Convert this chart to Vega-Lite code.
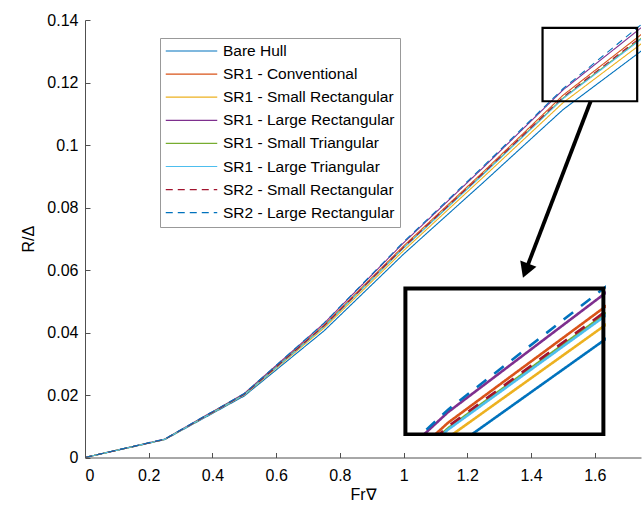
{
  "$schema": "https://vega.github.io/schema/vega-lite/v6.json",
  "padding": {"left": 20, "top": 12, "right": 0, "bottom": 0},
  "config": {
    "font": "Liberation Sans",
    "axis": {"labelFontSize": 16, "labelColor": "#000", "titleFontSize": 16, "titleFontWeight": "normal", "titleColor": "#000", "domainColor": "#505050", "tickColor": "#505050", "grid": false},
    "legend": {"labelFontSize": 15.5, "labelColor": "#000", "labelLimit": 0, "strokeColor": "#999", "fillColor": "white", "padding": 5, "rowPadding": 6.1, "clipHeight": 16, "symbolType": "stroke", "symbolSize": 2650, "symbolStrokeWidth": 1.2, "labelOffset": 5}
  },
  "datasets": {
    "curves": [
      {"series": "Bare Hull", "Fr": 0, "R": 0},
      {"series": "Bare Hull", "Fr": 0.25, "R": 0.0057},
      {"series": "Bare Hull", "Fr": 0.5, "R": 0.0197},
      {"series": "Bare Hull", "Fr": 0.75, "R": 0.0405},
      {"series": "Bare Hull", "Fr": 1.0, "R": 0.0651},
      {"series": "Bare Hull", "Fr": 1.25, "R": 0.088},
      {"series": "Bare Hull", "Fr": 1.5, "R": 0.1113},
      {"series": "Bare Hull", "Fr": 1.75, "R": 0.1304},
      {"series": "SR1 - Conventional", "Fr": 0, "R": 0},
      {"series": "SR1 - Conventional", "Fr": 0.25, "R": 0.0058},
      {"series": "SR1 - Conventional", "Fr": 0.5, "R": 0.0203},
      {"series": "SR1 - Conventional", "Fr": 0.75, "R": 0.0423},
      {"series": "SR1 - Conventional", "Fr": 1.0, "R": 0.0677},
      {"series": "SR1 - Conventional", "Fr": 1.25, "R": 0.0914},
      {"series": "SR1 - Conventional", "Fr": 1.5, "R": 0.1159},
      {"series": "SR1 - Conventional", "Fr": 1.75, "R": 0.1357},
      {"series": "SR1 - Small Rectangular", "Fr": 0, "R": 0},
      {"series": "SR1 - Small Rectangular", "Fr": 0.25, "R": 0.0058},
      {"series": "SR1 - Small Rectangular", "Fr": 0.5, "R": 0.02},
      {"series": "SR1 - Small Rectangular", "Fr": 0.75, "R": 0.0414},
      {"series": "SR1 - Small Rectangular", "Fr": 1.0, "R": 0.0662},
      {"series": "SR1 - Small Rectangular", "Fr": 1.25, "R": 0.0897},
      {"series": "SR1 - Small Rectangular", "Fr": 1.5, "R": 0.1135},
      {"series": "SR1 - Small Rectangular", "Fr": 1.75, "R": 0.1327},
      {"series": "SR1 - Large Rectangular", "Fr": 0, "R": 0},
      {"series": "SR1 - Large Rectangular", "Fr": 0.25, "R": 0.0059},
      {"series": "SR1 - Large Rectangular", "Fr": 0.5, "R": 0.0205},
      {"series": "SR1 - Large Rectangular", "Fr": 0.75, "R": 0.0429},
      {"series": "SR1 - Large Rectangular", "Fr": 1.0, "R": 0.0687},
      {"series": "SR1 - Large Rectangular", "Fr": 1.25, "R": 0.0928},
      {"series": "SR1 - Large Rectangular", "Fr": 1.5, "R": 0.1176},
      {"series": "SR1 - Large Rectangular", "Fr": 1.75, "R": 0.1379},
      {"series": "SR1 - Small Triangular", "Fr": 0, "R": 0},
      {"series": "SR1 - Small Triangular", "Fr": 0.25, "R": 0.0058},
      {"series": "SR1 - Small Triangular", "Fr": 0.5, "R": 0.0202},
      {"series": "SR1 - Small Triangular", "Fr": 0.75, "R": 0.042},
      {"series": "SR1 - Small Triangular", "Fr": 1.0, "R": 0.0671},
      {"series": "SR1 - Small Triangular", "Fr": 1.25, "R": 0.0908},
      {"series": "SR1 - Small Triangular", "Fr": 1.5, "R": 0.115},
      {"series": "SR1 - Small Triangular", "Fr": 1.75, "R": 0.1345},
      {"series": "SR1 - Large Triangular", "Fr": 0, "R": 0},
      {"series": "SR1 - Large Triangular", "Fr": 0.25, "R": 0.0058},
      {"series": "SR1 - Large Triangular", "Fr": 0.5, "R": 0.0201},
      {"series": "SR1 - Large Triangular", "Fr": 0.75, "R": 0.0419},
      {"series": "SR1 - Large Triangular", "Fr": 1.0, "R": 0.067},
      {"series": "SR1 - Large Triangular", "Fr": 1.25, "R": 0.0906},
      {"series": "SR1 - Large Triangular", "Fr": 1.5, "R": 0.1148},
      {"series": "SR1 - Large Triangular", "Fr": 1.75, "R": 0.1342},
      {"series": "SR2 - Small Rectangular", "Fr": 0, "R": 0},
      {"series": "SR2 - Small Rectangular", "Fr": 0.25, "R": 0.0058},
      {"series": "SR2 - Small Rectangular", "Fr": 0.5, "R": 0.0202},
      {"series": "SR2 - Small Rectangular", "Fr": 0.75, "R": 0.0421},
      {"series": "SR2 - Small Rectangular", "Fr": 1.0, "R": 0.0673},
      {"series": "SR2 - Small Rectangular", "Fr": 1.25, "R": 0.091},
      {"series": "SR2 - Small Rectangular", "Fr": 1.5, "R": 0.1153},
      {"series": "SR2 - Small Rectangular", "Fr": 1.75, "R": 0.1349},
      {"series": "SR2 - Large Rectangular", "Fr": 0, "R": 0},
      {"series": "SR2 - Large Rectangular", "Fr": 0.25, "R": 0.0059},
      {"series": "SR2 - Large Rectangular", "Fr": 0.5, "R": 0.0205},
      {"series": "SR2 - Large Rectangular", "Fr": 0.75, "R": 0.043},
      {"series": "SR2 - Large Rectangular", "Fr": 1.0, "R": 0.069},
      {"series": "SR2 - Large Rectangular", "Fr": 1.25, "R": 0.0932},
      {"series": "SR2 - Large Rectangular", "Fr": 1.5, "R": 0.118},
      {"series": "SR2 - Large Rectangular", "Fr": 1.75, "R": 0.1389}
    ],
    "zoombox": [{"x1": 1.436, "x2": 1.733, "y1": 0.114, "y2": 0.1375}],
    "arrow": [{"xa": 1.587, "ya": 0.114, "xb": 1.383, "yb": 0.0598}],
    "masks": [
      {"mx1": 0.88, "mx2": 1.8, "my1": -0.02, "my2": 0.00685},
      {"mx1": 1.635, "mx2": 1.8, "my1": 0.00685, "my2": 0.062}
    ]
  },
  "width": 556,
  "height": 437.5,
  "view": {"stroke": null},
  "resolve": {"scale": {"x": "independent", "y": "independent", "color": "independent", "strokeDash": "independent"}},
  "layer": [
    {
      "layer": [
        {
          "data": {"name": "curves"},
          "mark": {"type": "line", "strokeWidth": 1.1, "clip": true},
          "encoding": {
            "x": {"field": "Fr", "type": "quantitative", "title": "Fr∇", "scale": {"domain": [0, 1.745], "nice": false, "zero": false},
                  "axis": {"values": [0, 0.2, 0.4, 0.6, 0.8, 1, 1.2, 1.4, 1.6], "format": "~g", "tickSize": -5, "labelPadding": 15, "titlePadding": 3, "zindex": 1}},
            "y": {"field": "R", "type": "quantitative", "title": "R/Δ", "scale": {"domain": [0, 0.14], "nice": false},
                  "axis": {"values": [0, 0.02, 0.04, 0.06, 0.08, 0.1, 0.12, 0.14], "format": "~g", "tickSize": -5, "labelPadding": 12, "titlePadding": 10, "zindex": 1}},
            "color": {"field": "series", "type": "nominal", "title": null,
                      "scale": {"domain": ["Bare Hull", "SR1 - Conventional", "SR1 - Small Rectangular", "SR1 - Large Rectangular", "SR1 - Small Triangular", "SR1 - Large Triangular", "SR2 - Small Rectangular", "SR2 - Large Rectangular"],
                                "range": ["#0072BD", "#D95319", "#EDB120", "#7E2F8E", "#77AC30", "#4DBEEE", "#A2142F", "#0072BD"]},
                      "legend": {"orient": "none", "legendX": 75, "legendY": 18, "title": null}},
            "strokeDash": {"field": "series", "type": "nominal", "title": null,
                      "scale": {"domain": ["Bare Hull", "SR1 - Conventional", "SR1 - Small Rectangular", "SR1 - Large Rectangular", "SR1 - Small Triangular", "SR1 - Large Triangular", "SR2 - Small Rectangular", "SR2 - Large Rectangular"],
                                "range": [[1, 0], [1, 0], [1, 0], [1, 0], [1, 0], [1, 0], [7, 5], [7, 5]]},
                      "legend": {"orient": "none", "legendX": 75, "legendY": 18, "title": null}}
          }
        },
        {
          "data": {"name": "zoombox"},
          "mark": {"type": "rect", "fill": null, "stroke": "black", "strokeWidth": 2.2},
          "encoding": {
            "x": {"field": "x1", "type": "quantitative", "title": "Fr∇", "scale": {"domain": [0, 1.745], "nice": false, "zero": false}},
            "x2": {"field": "x2"},
            "y": {"field": "y1", "type": "quantitative", "title": "R/Δ", "scale": {"domain": [0, 0.14], "nice": false}},
            "y2": {"field": "y2"}
          }
        },
        {
          "data": {"name": "arrow"},
          "mark": {"type": "rule", "stroke": "black", "strokeWidth": 3.8},
          "encoding": {
            "x": {"field": "xa", "type": "quantitative", "title": "Fr∇", "scale": {"domain": [0, 1.745], "nice": false, "zero": false}},
            "x2": {"field": "xb"},
            "y": {"field": "ya", "type": "quantitative", "title": "R/Δ", "scale": {"domain": [0, 0.14], "nice": false}},
            "y2": {"field": "yb"}
          }
        },
        {
          "data": {"name": "arrow"},
          "mark": {"type": "point", "shape": "triangle-up", "filled": true, "fill": "black", "stroke": null, "opacity": 1, "size": 300, "angle": 201},
          "encoding": {
            "x": {"field": "xb", "type": "quantitative", "title": "Fr∇", "scale": {"domain": [0, 1.745], "nice": false, "zero": false}},
            "y": {"field": "yb", "type": "quantitative", "title": "R/Δ", "scale": {"domain": [0, 0.14], "nice": false}}
          }
        }
      ]
    },
    {
      "layer": [
        {
          "data": {"name": "curves"},
          "mark": {"type": "line", "strokeWidth": 2.6, "clip": true},
          "encoding": {
            "x": {"field": "Fr", "type": "quantitative", "scale": {"domain": [1.436, 1.733], "range": [320.4, 518.4], "nice": false, "zero": false}, "axis": null},
            "y": {"field": "R", "type": "quantitative", "scale": {"domain": [0.114, 0.1375], "range": [414.5, 268.5], "nice": false, "zero": false}, "axis": null},
            "color": {"field": "series", "type": "nominal", "legend": null,
                      "scale": {"domain": ["Bare Hull", "SR1 - Conventional", "SR1 - Small Rectangular", "SR1 - Large Rectangular", "SR1 - Small Triangular", "SR1 - Large Triangular", "SR2 - Small Rectangular", "SR2 - Large Rectangular"],
                                "range": ["#0072BD", "#D95319", "#EDB120", "#7E2F8E", "#77AC30", "#4DBEEE", "#A2142F", "#0072BD"]}},
            "strokeDash": {"field": "series", "type": "nominal", "legend": null,
                      "scale": {"domain": ["Bare Hull", "SR1 - Conventional", "SR1 - Small Rectangular", "SR1 - Large Rectangular", "SR1 - Small Triangular", "SR1 - Large Triangular", "SR2 - Small Rectangular", "SR2 - Large Rectangular"],
                                "range": [[1, 0], [1, 0], [1, 0], [1, 0], [1, 0], [1, 0], [12, 10], [12, 10]]}}
          }
        },
        {
          "data": {"name": "zoombox"},
          "mark": {"type": "rect", "fill": null, "stroke": "black", "strokeWidth": 4},
          "encoding": {
            "x": {"field": "x1", "type": "quantitative", "scale": {"domain": [1.436, 1.733], "range": [320.4, 518.4], "nice": false, "zero": false}, "axis": null},
            "x2": {"field": "x2"},
            "y": {"field": "y1", "type": "quantitative", "scale": {"domain": [0.114, 0.1375], "range": [414.5, 268.5], "nice": false, "zero": false}, "axis": null},
            "y2": {"field": "y2"}
          }
        }
      ]
    },
    {
      "data": {"name": "masks"},
      "mark": {"type": "rect", "fill": "white", "stroke": null, "clip": false},
      "encoding": {
        "x": {"field": "mx1", "type": "quantitative", "scale": {"domain": [0, 1.745], "nice": false, "zero": false}, "axis": null},
        "x2": {"field": "mx2"},
        "y": {"field": "my1", "type": "quantitative", "scale": {"domain": [0, 0.14], "nice": false}, "axis": null},
        "y2": {"field": "my2"}
      }
    }
  ]
}
